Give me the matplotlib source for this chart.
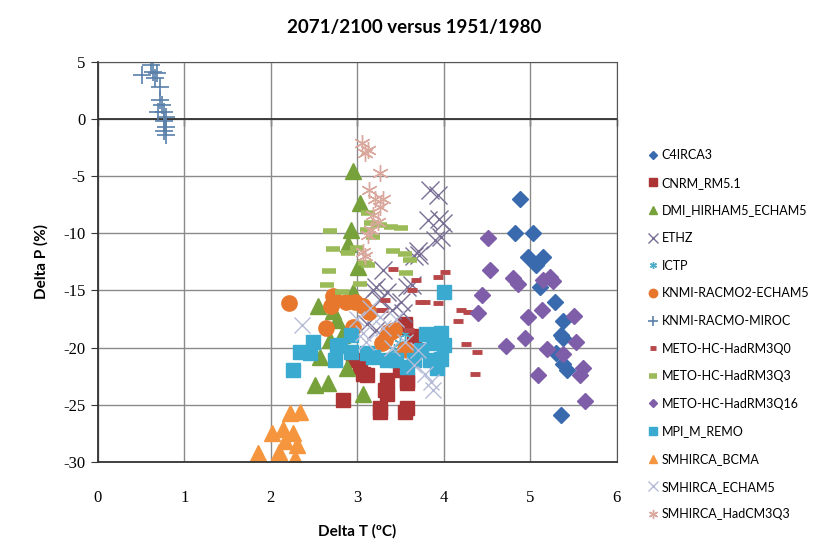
import matplotlib
matplotlib.use("Agg")
import matplotlib.pyplot as plt

plt.rcParams["axes.unicode_minus"] = False

# C4IRCA3
c4_t = [4.88, 4.82, 5.03, 4.97, 5.15, 5.07, 5.11, 5.28, 5.38, 5.36, 5.38, 5.30, 5.38, 5.42, 5.36, 5.23]
c4_p = [-6.95, -10.0, -10.0, -12.05, -12.05, -12.8, -14.7, -16.0, -17.7, -18.9, -19.2, -20.5, -21.4, -22.0, -25.9, -13.9]
# CNRM_RM5.1
cnrm_t = [3.55, 3.66, 3.03, 3.11, 3.34, 3.32, 3.34, 3.57, 2.84, 3.26, 3.57, 3.49, 2.95, 3.55, 3.26, 3.07, 3.57, 3.55]
cnrm_p = [-17.9, -19.0, -21.7, -22.4, -22.8, -23.7, -24.1, -22.8, -24.6, -25.3, -25.3, -22.0, -21.1, -25.6, -25.6, -22.3, -23.1, -18.2]
# DMI_HIRHAM5_ECHAM5
dmi_t = [2.95, 3.03, 2.93, 2.89, 3.01, 2.95, 2.55, 2.76, 2.68, 2.57, 2.88, 2.51, 2.66, 3.07, 2.82, 2.72]
dmi_p = [-4.5, -7.3, -9.7, -10.9, -12.9, -15.1, -16.4, -17.6, -19.3, -20.8, -21.8, -23.3, -23.1, -24.1, -18.9, -16.8]
# ETHZ
ethz_t = [3.84, 3.93, 3.82, 3.95, 3.99, 3.90, 3.97, 3.70, 3.65, 3.71, 3.30, 3.57, 3.26, 3.34, 3.63, 3.51, 3.53, 3.22, 3.18, 3.11, 3.22, 3.40]
ethz_p = [-6.2, -6.65, -8.8, -8.7, -9.1, -10.6, -10.3, -11.5, -12.0, -11.9, -13.2, -14.7, -15.8, -15.1, -14.5, -16.0, -17.0, -14.7, -15.0, -17.9, -18.5, -16.7]
# ICTP
ictp_t = [3.49, 3.55, 3.42]
ictp_p = [-19.6, -18.8, -20.2]
# KNMI-RACMO2-ECHAM5
knmi_t = [2.21, 2.72, 2.70, 2.87, 2.97, 3.07, 3.13, 2.64, 2.95, 3.36, 3.43, 3.32, 3.28, 3.55, 3.39, 3.57]
knmi_p = [-16.1, -15.5, -16.4, -16.0, -16.0, -16.4, -16.9, -18.3, -18.2, -18.6, -18.5, -19.3, -19.6, -20.1, -18.6, -20.2]
# KNMI-RACMO-MIROC
miroc_t = [0.51, 0.62, 0.64, 0.68, 0.66, 0.72, 0.72, 0.74, 0.69, 0.77, 0.79, 0.77, 0.79, 0.77, 0.79]
miroc_p = [3.85, 4.7, 4.1, 4.0, 3.6, 2.8, 1.7, 1.2, 0.6, 0.6, 0.2, -0.2, -0.7, -1.0, -1.4]
# METO-HC-HadRM3Q0
q0_t = [4.01, 3.93, 3.93, 4.20, 4.28, 4.16, 4.26, 4.38, 4.36, 3.68, 3.41, 3.63, 3.78, 3.32, 3.30, 3.27, 3.72, 3.60]
q0_p = [-13.4, -13.8, -16.1, -16.7, -16.9, -17.7, -19.7, -20.4, -22.3, -14.1, -13.1, -15.0, -16.0, -15.8, -16.7, -16.7, -16.0, -18.5]
# METO-HC-HadRM3Q3
q3_t = [2.68, 2.72, 2.67, 2.65, 3.12, 2.89, 3.11, 3.16, 3.26, 3.39, 3.51, 3.18, 3.12, 3.03, 3.00, 3.41, 3.55, 3.61, 3.56, 3.09, 2.82]
q3_p = [-9.8, -11.4, -13.3, -14.5, -8.25, -11.7, -9.7, -9.1, -9.3, -9.4, -9.5, -10.3, -12.8, -14.4, -11.3, -11.5, -11.8, -12.3, -13.5, -12.6, -15.1]
# METO-HC-HadRM3Q16
q16_t = [4.51, 4.53, 4.80, 4.86, 4.44, 4.40, 5.15, 5.23, 5.26, 5.13, 4.97, 5.51, 4.94, 4.72, 5.53, 5.19, 5.38, 5.09, 5.61, 5.57, 5.63]
q16_p = [-10.4, -13.2, -13.9, -14.4, -15.4, -17.0, -14.1, -13.8, -14.2, -16.7, -17.3, -17.2, -19.2, -19.9, -19.5, -20.1, -20.6, -22.4, -21.8, -22.4, -24.7]
# MPI_M_REMO
mpi_t = [2.26, 2.34, 2.49, 2.45, 2.74, 2.80, 2.93, 2.93, 3.11, 3.18, 3.34, 3.45, 3.57, 3.65, 3.74, 3.80, 4.00, 3.88, 3.95, 3.84, 2.76, 3.97, 4.00, 3.97, 3.92]
mpi_p = [-22.0, -20.4, -19.5, -20.5, -21.1, -19.8, -18.9, -20.4, -20.5, -20.8, -21.1, -21.1, -21.7, -21.1, -20.2, -18.8, -15.1, -19.6, -19.2, -21.1, -19.9, -18.7, -19.8, -21.0, -21.8]
# SMHIRCA_BCMA
bcma_t = [2.22, 2.34, 2.14, 2.01, 2.26, 2.16, 2.30, 2.10, 1.85, 2.28]
bcma_p = [-25.7, -25.6, -27.1, -27.5, -27.5, -28.2, -28.5, -29.1, -29.2, -29.7]
# SMHIRCA_ECHAM5
echam_t = [2.36, 3.00, 3.15, 3.30, 3.45, 3.55, 3.70, 3.65, 3.78, 3.85, 3.10, 3.40, 3.26, 3.07, 3.88]
echam_p = [-18.0, -17.5, -16.5, -18.3, -17.5, -19.5, -20.2, -21.5, -22.3, -23.0, -19.5, -20.0, -17.3, -18.75, -23.7]
# SMHIRCA_HadCM3Q3
had_t = [3.05, 3.12, 3.09, 3.26, 3.14, 3.20, 3.30, 3.26, 3.18, 3.24, 3.16, 3.12, 3.07, 3.09]
had_p = [-2.1, -2.7, -3.0, -4.75, -6.2, -6.95, -6.95, -7.7, -8.4, -9.0, -9.7, -10.1, -11.6, -12.0]

star = (6, 2, 0)
series = [
    ("C4IRCA3", c4_t, c4_p, "D", "#3A6AAE", 8, 1),
    ("CNRM_RM5.1", cnrm_t, cnrm_p, "s", "#AD3434", 10, 1),
    ("DMI_HIRHAM5_ECHAM5", dmi_t, dmi_p, "^", "#77A13A", 11, 1),
    ("ETHZ", ethz_t, ethz_p, "x", "#7A7096", 13, 1.0),
    ("ICTP", ictp_t, ictp_p, star, "#4BACC6", 9, 1.0),
    ("KNMI-RACMO2-ECHAM5", knmi_t, knmi_p, "o", "#E8772E", 11, 1),
    ("KNMI-RACMO-MIROC", miroc_t, miroc_p, "+", "#5A80AA", 13, 1.2),
    ("METO-HC-HadRM3Q0", q0_t, q0_p, "_", "#B8474A", 7, 3.5),
    ("METO-HC-HadRM3Q3", q3_t, q3_p, "_", "#9BBB59", 10, 4),
    ("METO-HC-HadRM3Q16", q16_t, q16_p, "D", "#7E5EA8", 8, 1),
    ("MPI_M_REMO", mpi_t, mpi_p, "s", "#3BAAD0", 10, 1),
    ("SMHIRCA_BCMA", bcma_t, bcma_p, "^", "#F5963F", 11, 1),
    ("SMHIRCA_ECHAM5", echam_t, echam_p, "x", "#B6BCD8", 12, 1.0),
    ("SMHIRCA_HadCM3Q3", had_t, had_p, star, "#D9A79C", 12, 1.0),
]

fig = plt.figure(figsize=(8.29, 5.44), dpi=100)
ax = fig.add_axes([0.118, 0.151, 0.626, 0.735])

handles = []
for name, xs, ys, mk, col, ms, mew in series:
    h, = ax.plot(xs, ys, linestyle="none", marker=mk, color=col, markersize=ms,
                 markeredgewidth=mew, markeredgecolor=col, label=name)
    handles.append(h)

ax.set_xlim(0, 6)
ax.set_ylim(-30, 5)
ax.set_xticks(range(0, 7))
ax.set_yticks(range(-30, 6, 5))
ax.grid(True, color="#8a8a8a", linewidth=1.0)
ax.set_axisbelow(True)
ax.axhline(0, color="#333333", linewidth=1.3, zorder=1)
for s in ax.spines.values():
    s.set_color("#555555")
ax.spines["left"].set_color("#333333")
ax.spines["left"].set_linewidth(1.3)
ax.spines["bottom"].set_color("#333333")
ax.spines["bottom"].set_linewidth(1.3)
ax.tick_params(axis="x", length=0, pad=20)
ax.tick_params(axis="y", length=5, direction="out", color="#333333", pad=4)
for lab in ax.get_xticklabels() + ax.get_yticklabels():
    lab.set_fontfamily("Liberation Serif")
    lab.set_fontsize(12)

# ticks on the horizontal axis line at P = 0
sec = ax.secondary_xaxis(30 / 35)
sec.set_xticks(range(0, 7))
sec.set_xticklabels([])
sec.tick_params(axis="x", which="major", direction="out", length=5, width=1,
                color="#333333", bottom=True, top=False, labelbottom=False, labeltop=False)
sec.spines["top"].set_visible(False)
sec.spines["bottom"].set_visible(False)

ax.set_xlabel("Delta T (ºC)", fontfamily="Lato", fontweight="bold", fontsize=11, labelpad=13)
ax.set_ylabel("Delta P (%)", fontfamily="Lato", fontweight="bold", fontsize=11, labelpad=10)
fig.suptitle("2071/2100 versus 1951/1980", fontfamily="Lato", fontweight="bold", fontsize=13.5, x=0.5, y=0.965)

fig.legend(handles=handles, loc="upper left", bbox_to_anchor=(0.777, 0.735), frameon=False,
           prop={"family": "Lato", "size": 9}, markerscale=0.55, handlelength=0.6,
           handletextpad=0.4, labelspacing=1.25, borderaxespad=0)

fig.savefig("out.png", dpi=100)
